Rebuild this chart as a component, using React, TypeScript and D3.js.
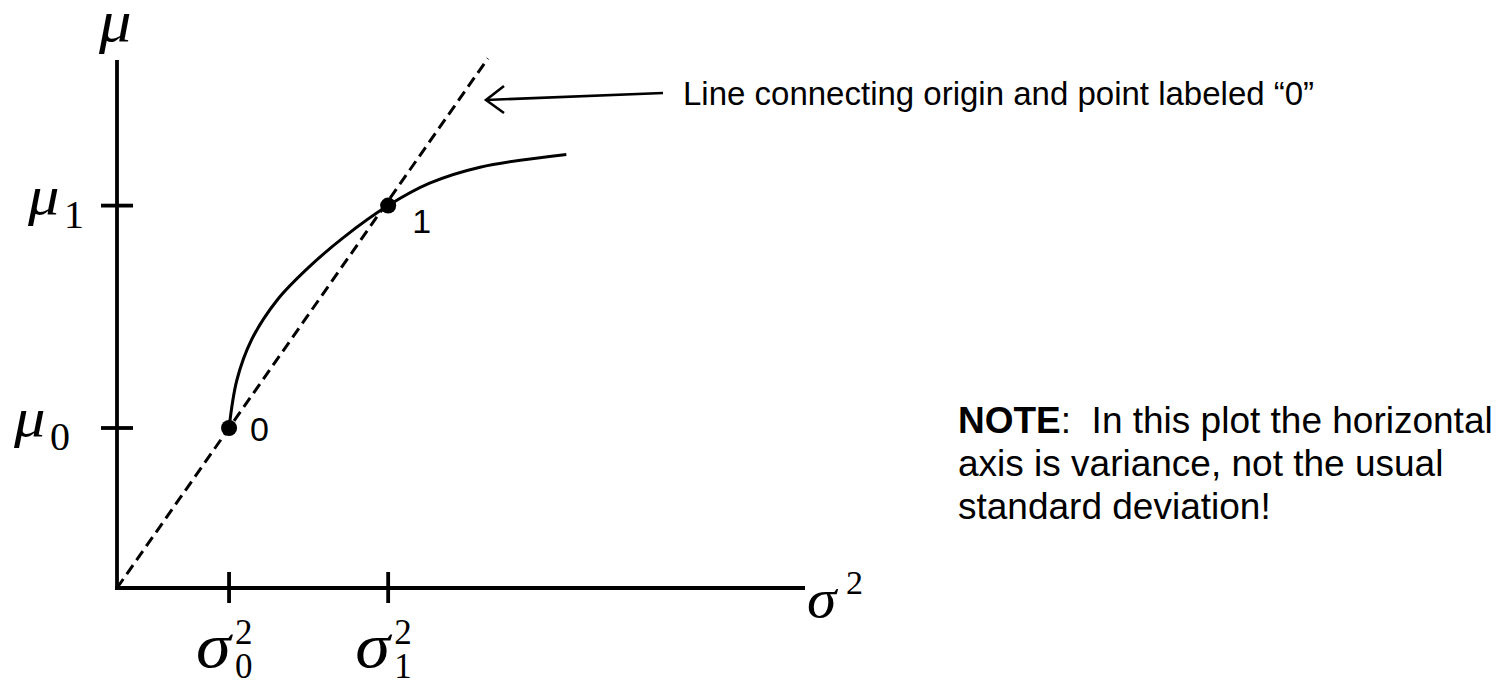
import React from "react";
import * as d3 from "d3";

// Tick positions on each axis (variance on x, mean on y)
const pointNames = ["0", "1"];
const varianceTicks = [1.0, 2.42];
const meanTicks = [1.0, 2.39];

// Sampled curve of attainable (variance, mean) pairs
const frontierVariance = [1.0, 1.07, 1.2, 1.43, 1.72, 2.02, 2.42, 2.79, 3.24, 4.01];
const frontierMean = [1.0, 1.3, 1.55, 1.8, 2.01, 2.19, 2.39, 2.53, 2.63, 2.71];

// Ray from the origin through point "0", drawn out to this variance
const rayEnd = 3.31;

const annotation = "Line connecting origin and point labeled \u201C0\u201D";
const noteBold = ["NOTE", "", ""];
const noteRest = [":  In this plot the horizontal", "axis is variance, not the usual", "standard deviation!"];

const W = 1504;
const H = 685;

export default function App() {
  const x = d3.scaleLinear().domain([0, 6.14]).range([117, 805]);
  const y = d3.scaleLinear().domain([0, 3.3]).range([588, 60]);

  const frontier = frontierVariance.map((v, i) => [v, frontierMean[i]] as [number, number]);
  const curve = d3
    .line<[number, number]>()
    .x((d) => x(d[0]))
    .y((d) => y(d[1]))
    .curve(d3.curveCatmullRom.alpha(0.5))(frontier);

  const slope = meanTicks[0] / varianceTicks[0];
  const ray = d3
    .line<[number, number]>()
    .x((d) => x(d[0]))
    .y((d) => y(d[1]))([
    [0, 0],
    [rayEnd, rayEnd * slope],
  ]);

  const serif = "'Liberation Serif', 'Times New Roman', serif";
  const sans = "'Liberation Sans', Arial, sans-serif";

  // label placement relative to each point
  const labelDx = [21, 24];
  const labelDy = [13, 27];
  // mean-axis label placement
  const muX = [14, 28];
  const subX = [50, 64];

  const tipX = 486;
  const tipY = 100;

  // slightly widened italic Greek glyph, anchored at its left edge
  const greek = (gx: number, gy: number, size: number, ch: string, sx = 1.1) => (
    <text
      transform={`translate(${gx},${gy}) scale(${sx},1)`}
      fontFamily={serif}
      fontStyle="italic"
      fontSize={size}
    >
      {ch}
    </text>
  );

  return (
    <svg
      width={W}
      height={H}
      style={{ position: "absolute", left: 0, top: 0, background: "#fff" }}
    >
      {/* axes */}
      <line x1={x(0)} y1={y(0) + 2} x2={x(0)} y2={60} stroke="#000" strokeWidth={3.8} />
      <line x1={x(0) - 2} y1={y(0)} x2={x(6.14)} y2={y(0)} stroke="#000" strokeWidth={3.8} />

      {/* y ticks */}
      {meanTicks.map((m, i) => (
        <line key={"yt" + i} x1={x(0) - 16} x2={x(0) + 16} y1={y(m)} y2={y(m)} stroke="#000" strokeWidth={3.8} />
      ))}
      {/* x ticks */}
      {varianceTicks.map((v, i) => (
        <line key={"xt" + i} x1={x(v)} x2={x(v)} y1={y(0) - 16} y2={y(0) + 15} stroke="#000" strokeWidth={3.8} />
      ))}

      {/* axis titles */}
      {greek(99, 41, 60, "\u03BC", 1.08)}
      {greek(807, 617, 54, "\u03C3", 1.1)}
      <text x={846} y={594} fontFamily={serif} fontSize={34}>
        2
      </text>

      {/* y tick labels */}
      {meanTicks.map((m, i) => (
        <g key={"yl" + i}>
          {greek(muX[i], y(m) + 8, 56, "\u03BC", 1.12)}
          <text x={subX[i]} y={y(m) + 22} fontFamily={serif} fontSize={40}>
            {pointNames[i]}
          </text>
        </g>
      ))}

      {/* x tick labels */}
      {varianceTicks.map((v, i) => (
        <g key={"xl" + i}>
          {greek(x(v) - 33, 667, 64, "\u03C3", 1.1)}
          <text x={x(v) + 6} y={644} fontFamily={serif} fontSize={35}>
            2
          </text>
          <text x={x(v) + 6} y={678} fontFamily={serif} fontSize={35}>
            {pointNames[i]}
          </text>
        </g>
      ))}

      {/* dashed ray from origin */}
      <path d={ray ?? ""} fill="none" stroke="#000" strokeWidth={3} strokeDasharray="11 6" />

      {/* curve */}
      <path d={curve ?? ""} fill="none" stroke="#000" strokeWidth={3} />

      {/* points */}
      {varianceTicks.map((v, i) => (
        <g key={"pt" + i}>
          <circle cx={x(v)} cy={y(meanTicks[i])} r={8} fill="#000" />
          <text x={x(v) + labelDx[i]} y={y(meanTicks[i]) + labelDy[i]} fontFamily={sans} fontSize={34}>
            {pointNames[i]}
          </text>
        </g>
      ))}

      {/* annotation arrow */}
      <line x1={663} y1={93} x2={tipX} y2={tipY} stroke="#000" strokeWidth={2.6} />
      <polyline
        points={`${tipX + 18},${tipY - 14} ${tipX},${tipY} ${tipX + 18},${tipY + 13}`}
        fill="none"
        stroke="#000"
        strokeWidth={2.6}
      />
      <text x={683} y={105} fontFamily={sans} fontSize={33}>
        {annotation}
      </text>

      {/* note */}
      {noteRest.map((rest, i) => (
        <text key={"n" + i} x={958} y={433 + i * 43} fontFamily={sans} fontSize={37} style={{ whiteSpace: "pre" }}>
          {noteBold[i] && <tspan fontWeight="bold">{noteBold[i]}</tspan>}
          {rest}
        </text>
      ))}
    </svg>
  );
}
